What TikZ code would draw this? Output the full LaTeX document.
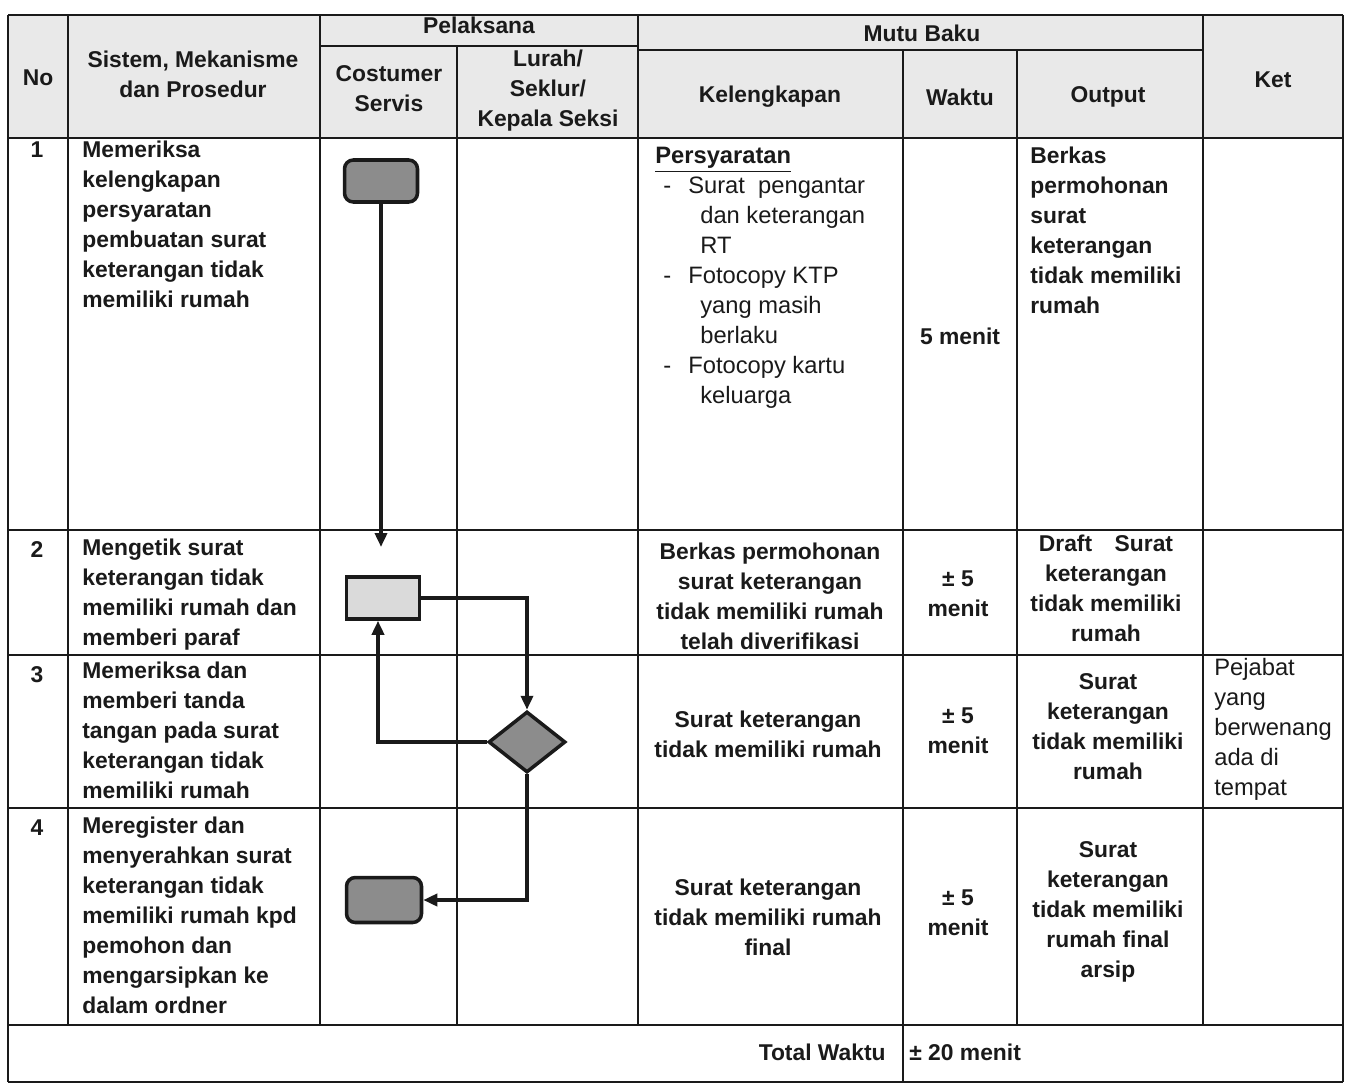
\documentclass[tikz,border=0pt]{standalone}
\usepackage{fontspec}
\setmainfont{Liberation Sans}
\usetikzlibrary{arrows.meta, shapes.geometric, positioning}
\definecolor{Ink}  {HTML}{1A1A1A}
\definecolor{DGray}{HTML}{8C8C8C}
\definecolor{LGray}{HTML}{DADADA}
\definecolor{HdrF} {HTML}{E9E9E9}
\tikzset{
  txt/.style={
    font=\fontsize{13}{17.07}\selectfont\bfseries, text=Ink,
    inner sep=0pt, align=center,
  },
  txtl/.style={txt, align=left, anchor=north west},
  txtn/.style={
    font=\fontsize{13.5}{17.07}\selectfont, text=Ink,
    inner sep=0pt, align=left, anchor=north west,
  },
  rul/.style={draw=Ink, line width=1.2pt},
  flw/.style args={#1}{
    rectangle, draw=Ink, fill=#1, line width=2pt,
    inner sep=0pt, minimum width=1.46cm, minimum height=0.84cm,
  },
  kptsn/.style={
    diamond, draw=Ink, fill=DGray, line width=2pt,
    inner sep=0pt, minimum width=1.54cm, minimum height=1.22cm,
  },
  arr/.style={
    -{Triangle[length=0.28cm,width=0.24cm]},
    line width=2pt, draw=Ink,
  },
}

\begin{document}
\begin{tikzpicture}[x=0.02cm,y=-0.02cm]
  \useasboundingbox (0,0) rectangle (1349,1088);
  \fill[white] (0,0) rectangle (1349,1088);
  \fill[HdrF] (8,15) rectangle (1343,138);

  % garis tabel
  \foreach \y in {15,138,530,655,808,1025,1082}
    \draw[rul] (8,\y) -- (1343,\y);
  \draw[rul] (320,46) -- (638,46);
  \draw[rul] (638,50) -- (1203,50);
  \foreach \x in {8,1343}
    \draw[rul] (\x,15) -- (\x,1082);
  \foreach \x in {68,320,638,1203}
    \draw[rul] (\x,15) -- (\x,1025);
  \draw[rul] (457,46) -- (457,1025);
  \draw[rul] (903,50) -- (903,1082);
  \draw[rul] (1017,50) -- (1017,1025);

  % kepala tabel
  \node[txt] (hNo)  at (38,78)   {No};
  \node[txt] (hSis) at (193,74)  {Sistem, Mekanisme\\dan Prosedur};
  \node[txt] (hPel) at (479,25)  {Pelaksana};
  \node[txt] (hCS)  at (389,89)  {Costumer\\Servis};
  \node[txt] (hLur) at (548,91)  {Lurah/\\Seklur/\\Kepala Seksi};
  \node[txt] (hMB)  at (922,33)  {Mutu Baku};
  \node[txt] (hKel) at (770,97)  {Kelengkapan};
  \node[txt] (hWak) at (960,97)  {Waktu};
  \node[txt] (hOut) at (1108,97) {Output};
  \node[txt] (hKet) at (1273,80) {Ket};

  \foreach \n/\y in {1/150,2/550,3/675,4/828}
    \node[txt] (no\n) at (37,\y) {\n};

  % sistem, mekanisme dan prosedur
  \node[txtl] (sis1) at (82,141) {Memeriksa\\kelengkapan\\persyaratan\\pembuatan surat\\keterangan tidak\\memiliki rumah};
  \node[txtl] (sis2) at (82,539) {Mengetik surat\\keterangan tidak\\memiliki rumah dan\\memberi paraf};
  \node[txtl] (sis3) at (82,662) {Memeriksa dan\\memberi tanda\\tangan pada surat\\keterangan tidak\\memiliki rumah};
  \node[txtl] (sis4) at (82,817) {Meregister dan\\menyerahkan surat\\keterangan tidak\\memiliki rumah kpd\\pemohon dan\\mengarsipkan ke\\dalam ordner};

  % kelengkapan
  \node[txtn] (kel1) at (655,147) {\textbf{\underline{Persyaratan}}\\
    \hspace*{0.16cm}\makebox[0.5cm][l]{-}Surat\ \ pengantar\\
    \hspace*{0.9cm}dan keterangan\\
    \hspace*{0.9cm}RT\\
    \hspace*{0.16cm}\makebox[0.5cm][l]{-}Fotocopy KTP\\
    \hspace*{0.9cm}yang masih\\
    \hspace*{0.9cm}berlaku\\
    \hspace*{0.16cm}\makebox[0.5cm][l]{-}Fotocopy kartu\\
    \hspace*{0.9cm}keluarga};
  \node[txt] (kel2) at (770,596) {Berkas permohonan\\surat keterangan\\tidak memiliki rumah\\telah diverifikasi};
  \node[txt] (kel3) at (768,734) {Surat keterangan\\tidak memiliki rumah};
  \node[txt] (kel4) at (768,917) {Surat keterangan\\tidak memiliki rumah\\final};

  % waktu
  \node[txt] (wak1) at (960,336) {5 menit};
  \node[txt] (wak2) at (958,594) {± 5\\menit};
  \node[txt] (wak3) at (958,731) {± 5\\menit};
  \node[txt] (wak4) at (958,913) {± 5\\menit};

  % output
  \node[txtl] (out1) at (1030,147) {Berkas\\permohonan\\surat\\keterangan\\tidak memiliki\\rumah};
  \node[txt] (out2) at (1106,588) {Draft\hspace{0.45cm}Surat\\keterangan\\tidak memiliki\\rumah};
  \node[txt] (out3) at (1108,727) {Surat\\keterangan\\tidak memiliki\\rumah};
  \node[txt] (out4) at (1108,912) {Surat\\keterangan\\tidak memiliki\\rumah final\\arsip};

  % ket
  \node[txtn] (ket3) at (1214,658) {Pejabat\\yang\\berwenang\\ada di\\tempat};

  \node[txt,anchor=east] (tot)  at (886,1052) {Total Waktu};
  \node[txt,anchor=west] (totv) at (909,1052) {± 20 menit};

  % bagan alir
  \node[flw=DGray,rounded corners=5pt] (mulai) at (381,181) {};
  \node[flw=LGray] (ketik) at (383,598) {};
  \node[kptsn] (periksa) at (527,742) {};
  \node[flw=DGray,rounded corners=5pt,minimum width=1.5cm,minimum height=0.9cm] (arsip) at (384,900) {};
  \coordinate (tiba) at (381,547);

  \draw[arr] (mulai.south) -- (tiba);
  \draw[arr] (ketik.east) -| (periksa.north);
  \draw[arr] (periksa.west) -| ([xshift=-0.1cm]ketik.south);
  \draw[arr] (periksa.south) |- (arsip.east);
\end{tikzpicture}
\end{document}
